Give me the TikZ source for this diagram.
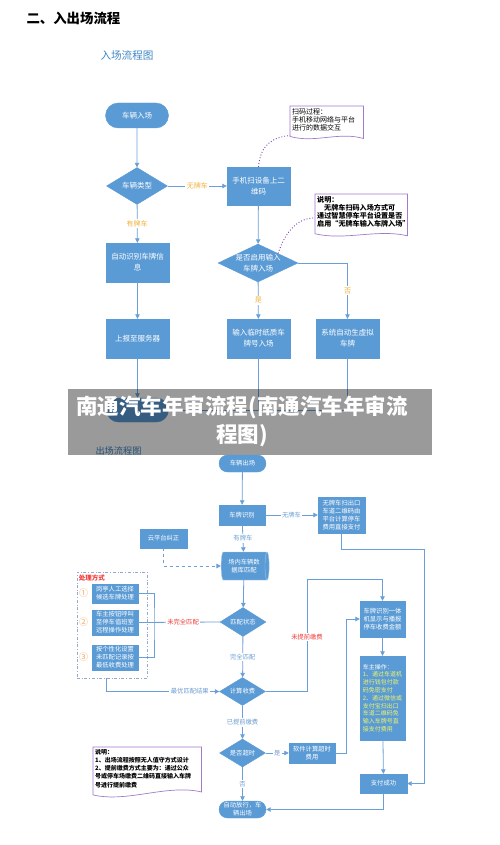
\documentclass[tikz,border=0pt]{standalone}
\usepackage{fontspec}
\setmainfont{Noto Sans CJK SC}
\usetikzlibrary{shapes.geometric,shapes.misc,arrows.meta}
\definecolor{boxblue}{HTML}{5B9BD5}
\definecolor{lineblue}{HTML}{6A9FD8}
\definecolor{labyellow}{HTML}{F2B33D}
\definecolor{labblue}{HTML}{6E9ED3}
\definecolor{labred}{HTML}{F23B3B}
\definecolor{notepurple}{HTML}{A27BC9}
\definecolor{dotpurple}{HTML}{7A3FA8}
\definecolor{ownyellow}{HTML}{EEF46A}
\definecolor{numorange}{HTML}{F2A65E}
\definecolor{framegray}{HTML}{93A9CF}
\definecolor{titleblue}{HTML}{3F86C4}
\definecolor{bannergray}{HTML}{9A9A9A}

\begin{document}
\begin{tikzpicture}[x=1pt,y=-1pt,
  flow/.style={draw=lineblue,line width=0.8pt},
  arr/.style={flow,-{Triangle[length=4.5pt,width=4.5pt]}},
  dasharr/.style={arr,dashed},
  block/.style={rectangle,fill=boxblue,draw=boxblue,text=white,align=center,inner sep=1pt},
  inbox/.style={block,minimum width=63pt,minimum height=39pt,font=\fontsize{7.5}{11}\selectfont},
  outbox/.style={block,minimum width=46pt,minimum height=20pt,font=\fontsize{6.3}{8}\selectfont},
  interm/.style={rounded rectangle,fill=boxblue,draw=boxblue,text=white,align=center,inner sep=0pt,minimum width=63pt,minimum height=25pt,font=\fontsize{7.5}{11}\selectfont},
  outterm/.style={interm,minimum width=47pt,minimum height=17pt,font=\fontsize{6.3}{8}\selectfont},
  decide/.style={diamond,fill=boxblue,draw=boxblue,inner sep=0pt},
  intext/.style={text=white,align=center,font=\fontsize{7.5}{11}\selectfont},
  outtext/.style={text=white,align=center,font=\fontsize{6.3}{8}\selectfont},
  inlab/.style={fill=white,text=labyellow,inner sep=1.5pt,font=\fontsize{7}{8}\selectfont},
  outlab/.style={fill=white,text=labblue,inner sep=1.5pt,font=\fontsize{6.3}{8}\selectfont},
  redlab/.style={outlab,text=labred},
  paper/.style={draw=notepurple,line width=0.7pt},
  notetext/.style={align=left,inner sep=2pt,anchor=north west},
  dotlink/.style={draw=dotpurple,line width=0.9pt,dotted}
]
  \useasboundingbox (0,0) rectangle (500,845);
  \node[anchor=west,font=\fontsize{13.4}{15}\selectfont\bfseries] (title) at (23,18) {二、入出场流程};
  \node[anchor=west,text=titleblue,font=\fontsize{10.6}{12}\selectfont] (intitle) at (97,55) {入场流程图};

  \node[interm] (carin) at (137,115.5) {车辆入场};
  \node[decide,minimum width=61pt,minimum height=37pt,label={[intext]center:车辆类型}] (cartype) at (137,186) {};
  \node[inbox] (autoread) at (137.5,262.5) {自动识别车牌信\\息};
  \node[inbox] (report) at (137.5,338.5) {上报至服务器};
  \node[inbox,minimum height=38pt] (scan) at (258.5,186) {手机扫设备上二\\维码};
  \node[decide,minimum width=80pt,minimum height=38pt,label={[intext]center:是否启用输入\\车牌入场}] (inputq) at (258,263) {};
  \node[inbox] (paperplate) at (258.5,338.5) {输入临时纸质车\\牌号入场};
  \node[inbox] (virtplate) at (347.5,338.5) {系统自动生虚拟\\车牌};
  \node[interm,minimum width=62pt,minimum height=24pt] (inend) at (137.5,410) {};

  \draw[arr] (carin) -- (cartype);
  \draw[arr] (cartype) -- node[inlab] {有牌车} (autoread);
  \draw[arr] (autoread) -- (report);
  \draw[arr] (report) -- (inend);
  \draw[arr] (cartype) -- node[inlab] {无牌车} (scan);
  \draw[arr] (scan) -- (inputq);
  \draw[arr] (inputq) -- node[inlab] {是} (paperplate);
  \draw[arr] (inputq.east) -| node[inlab,pos=0.75] {否} (virtplate.north);
  \draw[flow] (paperplate.south) -- (paperplate.south |- inend.east);
  \draw[arr] (virtplate.south) |- (inend.east);

  \node[notetext,text width=69pt,font=\fontsize{7}{8.3}\selectfont] (scannote) at (290,106) {扫码过程：\\手机移动网络与平台\\进行的数据交互};
  \draw[paper] (scannote.north west) -- (scannote.north east) -- ([yshift=-5pt]scannote.south east) .. controls +(-25,-7) and +(25,7) .. ([yshift=-3pt]scannote.south west) -- cycle;
  \node[notetext,text width=88pt,font=\fontsize{7.1}{8.2}\selectfont\bfseries] (rulenote) at (315,194) {说明：\\\hspace*{7pt}无牌车扫码入场方式可\\通过智慧停车平台设置是否\\启用“无牌车输入车牌入场”};
  \draw[paper] (rulenote.north west) -- (rulenote.north east) -- ([yshift=-6pt]rulenote.south east) .. controls +(-30,-7) and +(30,7) .. ([yshift=-4pt]rulenote.south west) -- cycle;
  \draw[dotlink] (scan.north) .. controls +(2,-22) and +(-18,2) .. ([yshift=-2pt]scannote.south west);
  \draw[dotlink] (inputq.north east) .. controls +(6,-18) and +(-20,0) .. ([yshift=-6pt]rulenote.west);

  \node[anchor=west,text=titleblue,font=\fontsize{9.2}{11}\selectfont] (outtitle) at (92,451) {出场流程图};

  \begin{scope}[blend mode=multiply]
    \fill[bannergray] (68,389) rectangle (432,455);
  \end{scope}
  \node[text=white,align=center,font=\fontsize{21.5}{28}\selectfont\bfseries] (banner) at (242,421) {南通汽车年审流程(南通汽车年审流\\程图)};

  \node[outterm] (carout) at (242.5,463.5) {车辆出场};
  \node[outbox] (plate) at (242,515) {车牌识别};
  \node[outbox,minimum width=47pt,minimum height=36pt] (noplate) at (341.5,515) {无牌车扫出口\\车道二维码由\\平台计算停车\\费用直接支付};
  \node[outbox,minimum width=47pt,minimum height=19pt] (cloudfix) at (163.5,538.5) {云平台纠正};
  \node[cylinder,shape border rotate=0,aspect=0.3,draw=boxblue!55!white,fill=boxblue,text=white,align=center,inner sep=0pt,minimum width=28pt,minimum height=48pt,font=\fontsize{6.3}{8}\selectfont] (dbmatch) at (244,566) {场内车辆数\\据库匹配};
  \node[decide,minimum width=46pt,minimum height=29pt,label={[outtext]center:匹配状态}] (matchq) at (243,622) {};
  \node[decide,minimum width=46pt,minimum height=28pt,label={[outtext]center:计算收费}] (feecalc) at (242.5,691.5) {};
  \node[decide,minimum width=46pt,minimum height=28pt,label={[outtext]center:是否超时}] (overq) at (242.5,753) {};
  \node[outbox] (overfee) at (312,753) {软件计算超时\\费用};
  \node[outterm] (leave) at (242.5,809.5) {自动放行，车\\辆出场};

  \node[draw=framegray,dash dot,line width=0.7pt,minimum width=70pt,minimum height=106pt] (handle) at (112,625) {};
  \node[anchor=north west,inner sep=0pt,text=labred,font=\fontsize{6.5}{8}\selectfont\bfseries] (handlecap) at ([shift={(2,3)}]handle.north west) {处理方式};
  \node[outbox,minimum height=19pt] (manual) at (115,593.5) {岗亭人工选择\\候选车牌处理};
  \node[outbox,minimum height=25pt] (callroom) at (115,622.5) {车主按钮呼叫\\至停车值班室\\远程操作处理};
  \node[outbox,minimum height=25pt] (lowfee) at (115,657.5) {按个性化设置\\未匹配记录按\\最低收费处理};
  \node[text=numorange,font=\fontsize{9}{10}\selectfont] (num1) at (83.5,593.5) {①};
  \node[text=numorange,font=\fontsize{9}{10}\selectfont] (num2) at (83.5,622.5) {②};
  \node[text=numorange,font=\fontsize{9}{10}\selectfont] (num3) at (83.5,657.5) {③};

  \node[outbox,minimum width=45pt,minimum height=36pt] (ledshow) at (382.5,619) {车牌识别一体\\机显示与播报\\停车收费金额};
  \node[block,align=left,inner sep=2pt,minimum width=45pt,minimum height=84pt,font=\fontsize{6}{7.8}\selectfont] (owner) at (382.5,698) {车主操作：\\\textcolor{ownyellow}{1、通过车道机}\\\textcolor{ownyellow}{进行钱包付款}\\\textcolor{ownyellow}{码免密支付}\\\textcolor{ownyellow}{2、通过微信或}\\\textcolor{ownyellow}{支付宝扫出口}\\\textcolor{ownyellow}{车道二维码免}\\\textcolor{ownyellow}{输入车牌号直}\\\textcolor{ownyellow}{接支付费用}};
  \node[outbox,minimum width=47pt,minimum height=19pt] (paid) at (383.5,783.5) {支付成功};

  \node[notetext,text width=104pt,font=\fontsize{6}{8.2}\selectfont\bfseries] (exitnote) at (93,747) {说明：\\1、出场流程按照无人值守方式设计\\2、提前缴费方式主要为：通过公众\\号或停车场缴费二维码直接输入车牌\\号进行提前缴费};
  \draw[paper] (exitnote.north west) -- (exitnote.north east) -- ([yshift=-2pt]exitnote.south east) .. controls +(-35,-8) and +(35,8) .. ([yshift=-5pt]exitnote.south west) -- cycle;

  \coordinate (bracket) at (154,622.5);
  \coordinate (upturn) at (307,579);
  \coordinate (rightrail) at (424,549);

  \draw[arr] (carout) -- (plate);
  \draw[arr] (plate) -- node[outlab] {无牌车} (noplate);
  \draw[arr] (plate) -- node[outlab] {有牌车} (dbmatch);
  \draw[dasharr] (cloudfix.south) |- (dbmatch.west);
  \draw[arr] (dbmatch) -- (matchq);
  \draw[flow] (matchq.west) -- node[redlab,pos=0.45] {未完全匹配} (callroom.east);
  \draw[flow] (manual.east) -| (bracket) |- (lowfee.east);
  \draw[arr] (matchq) -- node[outlab] {完全匹配} (feecalc);
  \draw[arr] ([xshift=-6pt]handle.south) |- node[outlab,pos=0.87] {最优匹配结果} (feecalc.west);
  \draw[arr] (feecalc.east) -| (upturn) -| (ledshow.north);
  \node[redlab] (prepaylab) at (307,637) {未提前缴费};
  \draw[arr] (ledshow) -- (owner);
  \draw[arr] (owner) -- (paid);
  \draw[arr] (noplate.south) |- (rightrail) |- (paid.east);
  \draw[arr] (feecalc) -- node[outlab] {已提前缴费} (overq);
  \draw[arr] (overq) -- node[outlab] {是} (overfee);
  \draw[arr] (overfee.east) -- ++(11,0) |- (ledshow.west);
  \draw[arr] (overq) -- node[outlab] {否} (leave);
  \draw[arr] (paid.south) |- (leave.east);
\end{tikzpicture}
\end{document}
